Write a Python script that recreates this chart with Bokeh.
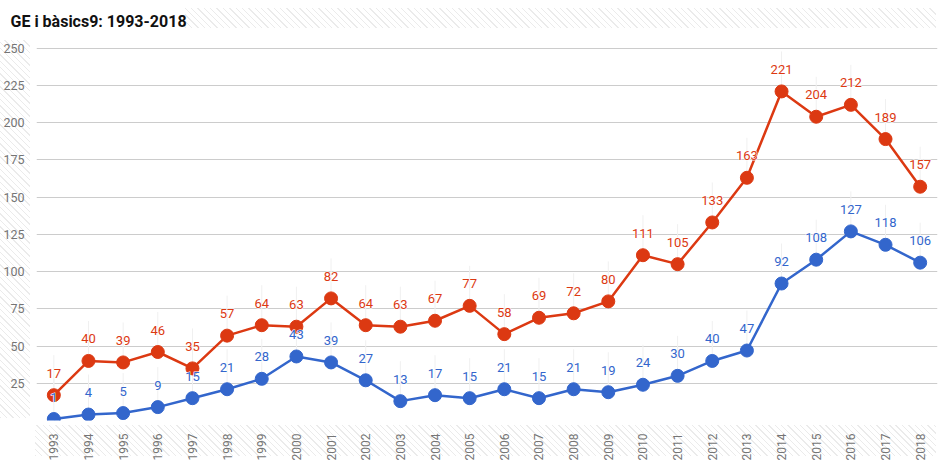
import math
from bokeh.plotting import figure
from bokeh.models import Range1d, FixedTicker, ColumnDataSource
from bokeh.core.properties import value
from bokeh.embed import file_html
from bokeh.resources import INLINE

years = list(range(1993, 2019))
ge_values = [17, 40, 39, 46, 35, 57, 64, 63, 82, 64, 63, 67, 77, 58, 69, 72, 80,
             111, 105, 133, 163, 221, 204, 212, 189, 157]
basics_values = [1, 4, 5, 9, 15, 21, 28, 43, 39, 27, 13, 17, 15, 21, 15, 21, 19,
                 24, 30, 40, 47, 92, 108, 127, 118, 106]
y_ticks = [25, 50, 75, 100, 125, 150, 175, 200, 225, 250]
title_text = "GE i bàsics9: 1993-2018"

RED = "#dc3912"
BLUE = "#3366cc"
GREY = "#757575"
FONT = "Roboto"

p = figure(frame_width=901, frame_height=380, output_backend="svg",
           toolbar_location=None,
           x_range=Range1d(1992.5, 2018.5), y_range=Range1d(0, 255.2),
           min_border_left=35, min_border_right=1, min_border_top=40,
           min_border_bottom=45, title=title_text)
p.outline_line_color = None
p.background_fill_color = "white"
p.border_fill_color = None

# CSS hatched bands behind the transparent border area
stripe = ("repeating-linear-gradient(45deg, #ebebeb 0px, #ebebeb 1px, "
          "rgba(255,255,255,0) 1px, rgba(255,255,255,0) 4.5px)")
bands = [(185, 8, 751, 20), (0, 40, 30, 378), (35, 425, 901, 31)]
p.styles = {
    "background-color": "white",
    "background-image": ", ".join([stripe] * len(bands)),
    "background-repeat": "no-repeat",
    "background-position": ", ".join(f"{l}px {t}px" for l, t, w, h in bands),
    "background-size": ", ".join(f"{w}px {h}px" for l, t, w, h in bands),
}

p.title.text_font = FONT
p.title.text_font_style = "bold"
p.title.text_font_size = "16px"
p.title.text_color = "#111111"
p.title.align = "left"
p.title.offset = -26
p.title.standoff = 19

# axes
p.yaxis.ticker = FixedTicker(ticks=y_ticks)
p.yaxis.axis_line_color = None
p.yaxis.major_tick_line_color = None
p.yaxis.minor_tick_line_color = None
p.yaxis.major_label_text_font = FONT
p.yaxis.major_label_text_font_size = "12.5px"
p.yaxis.major_label_text_color = GREY
p.yaxis.major_label_standoff = 6

p.xaxis.ticker = FixedTicker(ticks=years)
p.xaxis.axis_line_color = None
p.xaxis.major_tick_line_color = None
p.xaxis.minor_tick_line_color = None
p.xaxis.major_label_text_font = FONT
p.xaxis.major_label_text_font_size = "12px"
p.xaxis.major_label_text_color = GREY
p.xaxis.major_label_orientation = math.pi / 2
p.xaxis.major_label_standoff = 7

p.xgrid.grid_line_color = None
p.ygrid.ticker = FixedTicker(ticks=y_ticks)
p.ygrid.grid_line_color = "#cccccc"
p.ygrid.grid_line_width = 1

series = [(basics_values, BLUE), (ge_values, RED)]
sources = [ColumnDataSource(dict(x=years, y=vals, t=[str(v) for v in vals]))
           for vals, _ in series]

for src in sources:
    p.ray(x="x", y="y", length=40, length_units="screen", angle=math.pi / 2,
          line_color="#f0f0f0", line_width=1, source=src)

for src, (_, col) in zip(sources, series):
    p.line(x="x", y="y", line_color=col, line_width=2.5, source=src)
    p.scatter(x="x", y="y", size=13, fill_color=col, line_color=col, source=src)

text_kw = dict(y_offset=-22, text_align="center", text_baseline="middle",
               text_font=value(FONT), text_font_size="13px")
for src in sources:
    p.text(x="x", y="y", text="t", text_color="white",
           text_outline_color="white", source=src, **text_kw)
for src, (_, col) in zip(sources, series):
    p.text(x="x", y="y", text="t", text_color=col, source=src, **text_kw)

open("out.html", "w").write(file_html(p, INLINE))
